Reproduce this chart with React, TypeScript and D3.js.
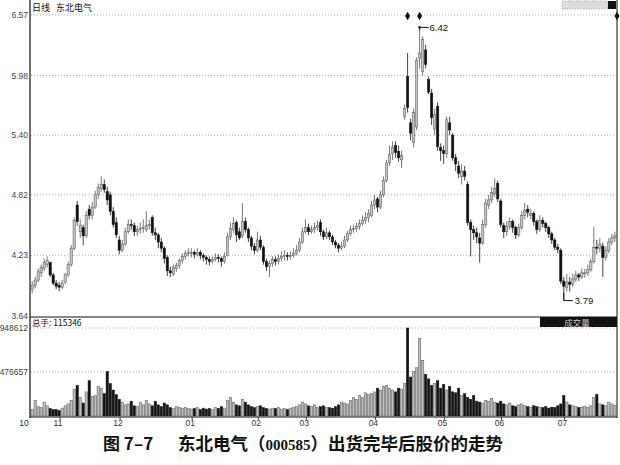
import React from "react";
import * as d3 from "d3";

// [open, high, low, close] per trading day (Oct .. Jul)
const candles: [number, number, number, number][] = [
  // Oct
  [3.90,3.98,3.86,3.94],[3.94,4.02,3.91,3.99],[3.99,4.10,3.97,4.07],[4.06,4.14,4.02,4.11],[4.10,4.20,4.08,4.16],
  [4.14,4.22,4.11,4.18],[4.16,4.17,4.02,4.04],[4.04,4.06,3.94,3.96],[3.96,3.99,3.90,3.93],[3.94,3.97,3.88,3.92],
  // Nov
  [3.92,3.99,3.90,3.96],[3.97,4.06,3.95,4.04],[4.04,4.17,4.02,4.14],[4.14,4.33,4.12,4.30],[4.30,4.60,4.28,4.57],
  [4.72,4.76,4.52,4.56],[4.46,4.58,4.40,4.52],[4.50,4.53,4.33,4.42],[4.42,4.66,4.40,4.62],[4.68,4.72,4.58,4.62],
  [4.62,4.75,4.58,4.70],[4.70,4.86,4.68,4.82],[4.82,4.93,4.78,4.89],[4.88,5.00,4.85,4.92],[4.92,4.97,4.84,4.87],
  [4.85,4.90,4.72,4.77],[4.82,4.85,4.62,4.66],[4.66,4.70,4.50,4.53],[4.55,4.60,4.40,4.43],[4.38,4.42,4.24,4.28],
  // Dec
  [4.28,4.38,4.26,4.34],[4.34,4.50,4.32,4.46],[4.46,4.58,4.44,4.53],[4.53,4.58,4.48,4.52],[4.52,4.55,4.42,4.46],
  [4.46,4.52,4.42,4.48],[4.48,4.55,4.44,4.49],[4.49,4.58,4.45,4.50],[4.48,4.66,4.46,4.52],[4.52,4.58,4.48,4.53],
  [4.60,4.62,4.42,4.45],[4.45,4.50,4.38,4.43],[4.43,4.45,4.30,4.36],[4.36,4.40,4.26,4.30],[4.30,4.32,4.15,4.20],
  [4.21,4.23,4.03,4.08],[4.08,4.12,4.02,4.06],[4.05,4.14,4.03,4.11],[4.10,4.16,4.07,4.13],[4.13,4.20,4.10,4.18],
  [4.18,4.25,4.15,4.22],[4.22,4.28,4.19,4.25],[4.25,4.30,4.22,4.26],
  // Jan
  [4.26,4.30,4.21,4.26],[4.26,4.28,4.20,4.24],[4.24,4.30,4.22,4.26],[4.26,4.28,4.19,4.23],[4.23,4.25,4.17,4.21],
  [4.21,4.23,4.14,4.19],[4.19,4.22,4.13,4.17],[4.17,4.22,4.15,4.19],[4.19,4.25,4.17,4.21],[4.21,4.24,4.16,4.20],
  [4.20,4.22,4.12,4.17],[4.17,4.26,4.15,4.22],[4.23,4.45,4.22,4.41],[4.41,4.55,4.38,4.49],[4.48,4.60,4.45,4.54],
  [4.55,4.57,4.36,4.43],[4.46,4.50,4.38,4.40],[4.42,4.74,4.40,4.56],[4.56,4.60,4.45,4.48],[4.48,4.50,4.36,4.40],
  [4.40,4.42,4.28,4.32],[4.32,4.35,4.24,4.28],
  // Feb
  [4.28,4.46,4.26,4.38],[4.38,4.42,4.28,4.31],[4.31,4.33,4.14,4.17],[4.17,4.20,4.08,4.12],[4.12,4.18,4.02,4.15],
  [4.15,4.22,4.12,4.19],[4.19,4.22,4.13,4.17],[4.17,4.24,4.14,4.20],[4.20,4.27,4.17,4.22],[4.22,4.28,4.18,4.23],
  [4.23,4.26,4.18,4.22],[4.22,4.27,4.19,4.23],[4.23,4.30,4.21,4.25],[4.25,4.33,4.23,4.28],[4.28,4.40,4.26,4.36],
  [4.36,4.50,4.34,4.46],
  // Mar
  [4.46,4.58,4.44,4.50],[4.50,4.54,4.43,4.46],[4.46,4.52,4.44,4.48],[4.48,4.55,4.45,4.50],[4.50,4.57,4.47,4.52],
  [4.55,4.58,4.42,4.46],[4.46,4.48,4.38,4.41],[4.41,4.50,4.39,4.45],[4.45,4.47,4.38,4.41],[4.41,4.43,4.33,4.36],
  [4.36,4.38,4.30,4.33],[4.33,4.35,4.26,4.30],[4.30,4.36,4.28,4.32],[4.32,4.42,4.30,4.38],[4.38,4.47,4.36,4.44],
  [4.44,4.52,4.42,4.48],[4.48,4.53,4.45,4.49],[4.49,4.55,4.46,4.51],[4.51,4.58,4.48,4.54],[4.54,4.62,4.52,4.57],
  [4.57,4.65,4.54,4.60],[4.60,4.68,4.55,4.64],[4.62,4.76,4.60,4.72],
  // Apr
  [4.72,4.82,4.68,4.77],[4.78,4.80,4.65,4.70],[4.70,4.86,4.68,4.82],[4.82,5.00,4.80,4.96],[4.96,5.16,4.94,5.13],
  [5.13,5.30,5.10,5.21],[5.22,5.34,5.16,5.28],[5.30,5.34,5.18,5.23],[5.24,5.30,5.14,5.18],[5.16,5.25,5.08,5.20],
  [5.58,5.70,5.55,5.66],[5.97,6.20,5.62,5.67],[5.52,5.56,5.35,5.42],[5.33,5.66,5.28,5.62],[5.48,6.16,5.45,6.13],
  [6.15,6.42,6.05,6.20],[6.02,6.36,5.98,6.33],[6.23,6.28,6.05,6.09],[5.94,5.97,5.80,5.82],[5.81,5.85,5.50,5.57],
  [5.46,5.66,5.40,5.60],[5.68,5.72,5.25,5.29],[5.28,5.32,5.15,5.25],
  // May
  [5.25,5.30,5.12,5.22],[5.22,5.58,5.18,5.55],[5.52,5.58,5.40,5.45],[5.40,5.42,5.15,5.18],[5.18,5.22,5.05,5.12],
  [5.10,5.15,4.98,5.03],[5.00,5.12,4.92,5.05],[5.05,5.10,4.96,5.00],[4.92,4.95,4.52,4.55],[4.55,4.58,4.22,4.48],
  [4.48,4.52,4.38,4.45],[4.45,4.50,4.35,4.41],[4.40,4.45,4.16,4.35],[4.35,4.58,4.33,4.53],[4.53,4.78,4.50,4.74],
  [4.72,4.82,4.68,4.77],[4.77,4.90,4.74,4.84],[4.83,4.98,4.80,4.88],[4.93,4.96,4.75,4.78],
  // Jun
  [4.76,4.78,4.50,4.53],[4.52,4.55,4.40,4.46],[4.46,4.56,4.42,4.51],[4.51,4.60,4.48,4.56],[4.56,4.58,4.45,4.50],
  [4.50,4.52,4.39,4.43],[4.43,4.54,4.41,4.50],[4.50,4.66,4.48,4.62],[4.62,4.74,4.58,4.67],[4.68,4.72,4.60,4.65],
  [4.62,4.68,4.58,4.64],[4.64,4.66,4.52,4.56],[4.56,4.58,4.44,4.48],[4.48,4.62,4.46,4.57],[4.57,4.60,4.50,4.54],
  [4.54,4.56,4.46,4.50],[4.50,4.52,4.40,4.44],[4.44,4.46,4.34,4.38],[4.38,4.40,4.28,4.31],[4.31,4.34,4.25,4.29],
  [4.28,4.30,3.95,3.98],
  // Jul
  [3.98,4.02,3.79,3.93],[3.92,4.05,3.88,3.97],[3.97,4.02,3.88,3.95],[3.95,4.05,3.92,4.00],[4.00,4.08,3.97,4.04],
  [4.04,4.06,3.98,4.02],[4.02,4.10,4.00,4.06],[4.06,4.10,4.01,4.06],[4.06,4.14,4.03,4.09],[4.09,4.20,4.07,4.17],
  [4.17,4.51,4.15,4.31],[4.31,4.38,4.24,4.30],[4.30,4.40,4.26,4.34],[4.32,4.35,4.02,4.21],[4.21,4.32,4.18,4.28],
  [4.28,4.40,4.25,4.36],[4.36,4.44,4.33,4.40],[4.40,4.46,4.36,4.42],
];

// daily volume, thousands of hands
const volumesK: number[] = [
  70,170,100,90,150,110,80,70,70,60,
  85,110,130,170,290,330,200,140,260,380,210,220,320,300,240,480,350,280,230,180,
  150,120,130,160,110,100,150,120,170,130,110,160,120,100,140,120,90,80,100,95,85,90,80,
  75,80,90,70,85,75,80,70,90,80,100,85,170,200,150,120,110,180,150,120,100,90,
  100,110,90,80,75,85,80,90,75,80,70,85,90,100,120,150,
  130,110,100,120,90,100,110,95,90,85,100,120,150,140,130,170,200,180,220,200,250,230,240,
  260,300,280,320,330,300,280,260,300,290,350,948.6,420,480,520,835,600,450,400,330,350,380,300,
  340,280,320,260,250,300,220,240,200,180,220,160,150,140,170,160,190,150,140,
  160,130,120,140,110,100,120,130,110,100,90,110,100,95,90,100,85,95,90,110,130,
  220,150,120,110,100,90,95,100,90,110,200,230,130,120,110,150,130,115.346,
];

const monthLabels = ["10", "11", "12", "01", "02", "03", "04", "05", "06", "07"];
const monthStarts = [0, 9, 29, 53, 75, 91, 114, 137, 156, 177];
const priceTicks = [6.57, 5.98, 5.4, 4.82, 4.23, 3.64];
const priceTickLabels = ["6.57", "5.98", "5.40", "4.82", "4.23", "3.64"];
const volumeTicks = [948612, 476657];
const markerIdx = [125, 129];
const lastVolume = "115346";

const SANS = "'Liberation Sans', Arial, sans-serif";
const CJK = "'Noto Sans CJK SC', sans-serif";

export default function App() {
  const xL = 31, xR = 616;
  const x = d3.scaleBand<number>().domain(d3.range(candles.length)).range([xL, xR]).paddingInner(0.22);
  const bw = x.bandwidth();
  const yP = d3.scaleLinear().domain([3.64, 6.57]).range([316, 15]);
  const yV = d3.scaleLinear().domain([0, 948612]).range([416, 328]);

  const hiIdx = d3.maxIndex(candles, (d) => d[1]);
  const loIdx = d3.minIndex(candles, (d) => d[2]);
  const hx = x(hiIdx)! + bw / 2, hy = yP(candles[hiIdx][1]);
  const lx = x(loIdx)! + bw / 2, ly = yP(candles[loIdx][2]);
  const diamond = d3.symbol(d3.symbolDiamond, 22)()!;

  return (
    <svg width={620} height={465} style={{ position: "absolute", left: 0, top: 0, background: "#fff" }}>
      <rect width={620} height={465} fill="#fff" />
      {/* header */}
      <text x={32} y={11} fontFamily={CJK} fontSize={9} fill="#111">日线</text>
      <text x={56} y={11} fontFamily={CJK} fontSize={9} fill="#111">东北电气</text>
      {/* top-right box */}
      <rect x={562} y={1} width={46} height={8} fill="#ddd" stroke="#888" strokeWidth={0.6} strokeDasharray="1,1" />
      <rect x={608} y={1} width={8} height={8} fill="#111" />

      {/* price gridlines */}
      {priceTicks.map((t, k) => (
        <g key={k}>
          {k < priceTicks.length - 1 && (
            <line x1={xL} x2={xR} y1={yP(t)} y2={yP(t)} stroke="#9a9a9a" strokeWidth={0.8} strokeDasharray="1,2" />
          )}
          <text x={28} y={yP(t) + 3} textAnchor="end" fontFamily={SANS} fontSize={8.5} fill="#444">
            {priceTickLabels[k]}
          </text>
        </g>
      ))}
      {/* volume gridlines */}
      {volumeTicks.map((t, k) => (
        <g key={k}>
          <line x1={xL} x2={xR} y1={yV(t)} y2={yV(t)} stroke="#9a9a9a" strokeWidth={0.8} strokeDasharray="1,2" />
          <text x={28} y={yV(t) + 3} textAnchor="end" fontFamily={SANS} fontSize={8.5} fill="#444">
            {String(t).slice(0, 6)}
          </text>
        </g>
      ))}

      {/* candles */}
      {candles.map((d, i) => {
        const [o, h, l, c] = d;
        const x0 = x(i)!;
        const cx = x0 + bw / 2;
        const up = c >= o;
        const yTop = yP(Math.max(o, c));
        const hgt = Math.max(1, Math.abs(yP(o) - yP(c)));
        return (
          <g key={i}>
            <line x1={cx} x2={cx} y1={yP(h)} y2={yP(l)} stroke={up ? "#555" : "#111"} strokeWidth={0.8} />
            <rect
              x={x0}
              y={yTop}
              width={bw}
              height={hgt}
              fill={up ? "#c4c4c4" : "#111"}
              stroke={up ? "#555" : "#111"}
              strokeWidth={0.5}
            />
          </g>
        );
      })}

      {/* volume bars */}
      {volumesK.map((v, i) => {
        const [o, , , c] = candles[i];
        const up = c >= o;
        const y0 = yV(v * 1000);
        return (
          <rect
            key={i}
            x={x(i)!}
            y={y0}
            width={bw}
            height={416 - y0}
            fill={up ? "#bdbdbd" : "#111"}
            stroke={up ? "#555" : "#111"}
            strokeWidth={0.5}
          />
        );
      })}

      {/* markers */}
      {markerIdx.map((m) => (
        <path key={m} d={diamond} transform={`translate(${x(m)! + bw / 2},${yP(6.57) + 1})`} fill="#111" />
      ))}
      <path d={diamond} transform={`translate(617,${yP(6.57) + 1})`} fill="#111" />

      {/* high / low annotations */}
      <path d={`M${hx},${hy} V${hy - 3} H${hx + 9}`} fill="none" stroke="#111" strokeWidth={1} />
      <circle cx={hx} cy={hy - 3} r={1.3} fill="#111" />
      <text x={hx + 10} y={hy + 1} fontFamily={SANS} fontSize={9.5} fill="#111">6.42</text>
      <path d={`M${lx},${ly - 8} V${ly} H${lx + 9}`} fill="none" stroke="#111" strokeWidth={1} />
      <text x={lx + 11} y={ly + 3} fontFamily={SANS} fontSize={9.5} fill="#111">3.79</text>

      {/* frame */}
      <line x1={30} x2={30} y1={0} y2={418} stroke="#111" strokeWidth={1.2} />
      <line x1={617} x2={617} y1={0} y2={418} stroke="#111" strokeWidth={1} />
      <line x1={30} x2={617} y1={317} y2={317} stroke="#111" strokeWidth={1} />
      <line x1={30} x2={617} y1={417} y2={417} stroke="#111" strokeWidth={1} />
      <rect x={540} y={317} width={77} height={10} fill="#111" />
      <text x={577} y={325.5} textAnchor="middle" fontFamily={CJK} fontSize={8.5} fill="#ccc">成交量</text>
      <text x={32} y={326} fontFamily={CJK} fontSize={8.5} fill="#111">总手: {lastVolume}</text>

      {/* month axis */}
      {monthStarts.map((s, k) => {
        const mx = k === 0 ? 24 : x(s)!;
        return (
          <g key={k}>
            {k > 0 && <line x1={x(s)! + 2} x2={x(s)! + 2} y1={417} y2={420} stroke="#111" strokeWidth={0.8} />}
            <text x={mx} y={426} textAnchor="middle" fontFamily={SANS} fontSize={8.5} fill="#333">
              {monthLabels[k]}
            </text>
          </g>
        );
      })}

      {/* caption */}
      <text x={103} y={450} fontFamily={CJK} fontWeight={700} fontSize={17} fill="#111">图 7–7</text>
      <text x={178} y={450} fontFamily={CJK} fontWeight={700} fontSize={17.5} fill="#111">
        东北电气（<tspan fontFamily="'Liberation Serif', serif" fontSize={15}>000585</tspan>）出货完毕后股价的走势
      </text>
    </svg>
  );
}
